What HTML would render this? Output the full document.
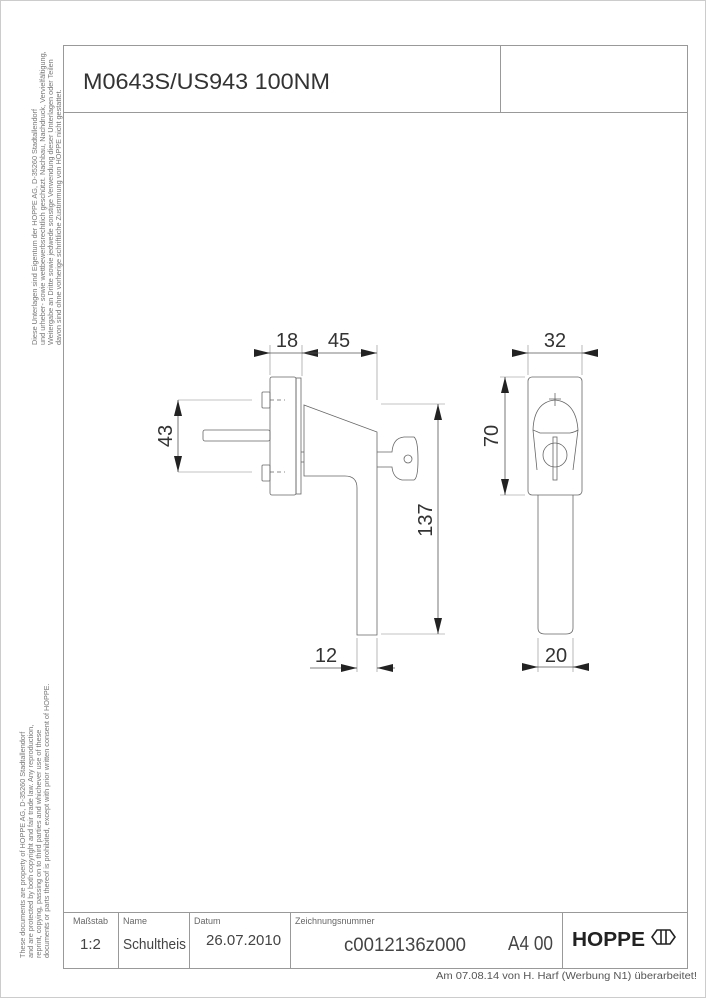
<!DOCTYPE html>
<html><head><meta charset="utf-8"><style>
body{margin:0;background:#fff;}
svg{display:block;font-family:"Liberation Sans",sans-serif;}
</style></head><body>
<svg width="707" height="1000" viewBox="0 0 707 1000" xmlns="http://www.w3.org/2000/svg">
<defs>
<marker id="a" viewBox="0 0 16 8" refX="16" refY="4" markerWidth="16" markerHeight="8" markerUnits="userSpaceOnUse" orient="auto"><path d="M0,0 L16,4 L0,8z" fill="#222"/></marker>
</defs>
<rect x="0.5" y="0.5" width="705" height="997" fill="none" stroke="#ccc"/>
<g fill="none" stroke="#999" stroke-width="1">
<rect x="63.5" y="45.5" width="624" height="923"/>
<line x1="63" y1="112.5" x2="688" y2="112.5"/>
<line x1="500.5" y1="45" x2="500.5" y2="112"/>
<line x1="63" y1="912.5" x2="688" y2="912.5"/>
<line x1="118.5" y1="912" x2="118.5" y2="968"/>
<line x1="189.5" y1="912" x2="189.5" y2="968"/>
<line x1="290.5" y1="912" x2="290.5" y2="968"/>
<line x1="562.5" y1="912" x2="562.5" y2="968"/>
</g>
<text x="83" y="89" font-size="22" fill="#333" textLength="247" lengthAdjust="spacingAndGlyphs">M0643S/US943 100NM</text>
<g fill="#666" font-size="9">
<text x="73" y="924">Maßstab</text><text x="123" y="924">Name</text><text x="194" y="924">Datum</text><text x="295" y="924">Zeichnungsnummer</text>
</g>
<g fill="#444" font-size="15">
<text x="80" y="949">1:2</text><text x="123" y="949" textLength="63" lengthAdjust="spacingAndGlyphs">Schultheis</text><text x="206" y="945">26.07.2010</text>
</g>
<text x="344" y="951" font-size="19" fill="#444" textLength="122" lengthAdjust="spacingAndGlyphs">c0012136z000</text>
<text x="508" y="950" font-size="20" fill="#444" textLength="45" lengthAdjust="spacingAndGlyphs">A4 00</text>
<text x="572" y="946" font-size="20" font-weight="bold" fill="#222" textLength="73" lengthAdjust="spacingAndGlyphs">HOPPE</text>
<path d="M657,930 L670,930 L675,937 L670,944 L657,944 L652,937z M661,930 V944 M666,930 V944" fill="none" stroke="#222" stroke-width="1.6"/>
<text x="697" y="979" font-size="10" fill="#555" text-anchor="end" textLength="261" lengthAdjust="spacingAndGlyphs">Am 07.08.14 von H. Harf (Werbung N1) überarbeitet!</text>
<g fill="#777" font-size="7.3">
<g transform="translate(37,345) rotate(-90)"><text x="0" y="0">Diese Unterlagen sind Eigentum der HOPPE AG, D-35260 Stadtallendorf</text><text x="0" y="8">und urheber- sowie wettbewerbsrechtlich geschützt. Nachbau, Nachdruck, Vervielfältigung,</text><text x="0" y="16">Weitergabe an Dritte sowie jedwede sonstige Verwendung dieser Unterlagen oder Teilen</text><text x="0" y="24">davon sind ohne vorherige schriftliche Zustimmung von HOPPE nicht gestattet.</text></g>
<g transform="translate(25,958) rotate(-90)"><text x="0" y="0">These documents are property of HOPPE AG, D-35260 Stadtallendorf</text><text x="0" y="8">and are protected by both copyright and fair trade law. Any reproduction,</text><text x="0" y="16">reprint, copying, passing on to third parties and whichever use of these</text><text x="0" y="24">documents or parts thereof is prohibited, except with prior written consent of HOPPE.</text></g>
</g>
<g fill="none" stroke="#666" stroke-width="0.8">
<rect x="270" y="377" width="26" height="118" rx="2"/>
<rect x="296" y="378" width="5" height="116"/>
<rect x="262" y="392" width="8" height="16" rx="1"/>
<rect x="262" y="465" width="8" height="16" rx="1"/>
<rect x="203" y="430" width="67" height="11" rx="2"/>
<line x1="270" y1="400" x2="285" y2="400" stroke-dasharray="4,3"/>
<line x1="270" y1="472" x2="285" y2="472" stroke-dasharray="4,3"/>
<path d="M304,405 L377,432 L377,635 L357,635 L357,488 Q357,476 345,476 L304,476 Z"/>
<line x1="301" y1="452" x2="304" y2="452"/><line x1="301" y1="462" x2="304" y2="462"/>
<path d="M377,452 L392,452 Q393,438 404,437 L414,437 Q418,440 418,460 Q418,478 414,480 L402,480 Q393,478 392,467 L377,467"/>
<circle cx="408" cy="459" r="4"/>
<rect x="528" y="377" width="54" height="118" rx="4"/>
<path d="M538,495 L538,628 Q538,634 545,634 L566,634 Q573,634 573,628 L573,495"/>
<path d="M537,470 L533,430 Q534,402 555,400 Q576,402 578,430 L573,470"/>
<path d="M533,430 Q538,432 540,433 L570,433 Q575,432 578,430"/>
<line x1="555" y1="393" x2="555" y2="406"/><line x1="549" y1="399" x2="561" y2="399"/>
<circle cx="555" cy="455" r="12"/>
<rect x="553" y="437" width="4" height="43"/>
</g>
<g fill="none" stroke="#888" stroke-width="0.6">
<line x1="270" y1="345" x2="270" y2="375"/><line x1="302" y1="345" x2="302" y2="376"/>
<line x1="377" y1="345" x2="377" y2="400"/>
<line x1="178" y1="400" x2="252" y2="400"/><line x1="178" y1="472" x2="252" y2="472"/>
<line x1="381" y1="404" x2="445" y2="404"/><line x1="381" y1="634" x2="445" y2="634"/>
<line x1="357" y1="638" x2="357" y2="672"/><line x1="377" y1="638" x2="377" y2="672"/>
<line x1="528" y1="345" x2="528" y2="375"/><line x1="582" y1="345" x2="582" y2="375"/>
<line x1="500" y1="377" x2="525" y2="377"/><line x1="500" y1="495" x2="525" y2="495"/>
<line x1="538" y1="638" x2="538" y2="672"/><line x1="573" y1="638" x2="573" y2="672"/>
</g>
<g stroke="#555" stroke-width="0.8" fill="none">
<line x1="254" y1="353" x2="270" y2="353" marker-end="url(#a)"/>
<line x1="270" y1="353" x2="302" y2="353"/>
<line x1="318" y1="353" x2="302" y2="353" marker-end="url(#a)"/>
<line x1="302" y1="353" x2="377" y2="353" marker-end="url(#a)"/>
<line x1="178" y1="436" x2="178" y2="400" marker-end="url(#a)"/>
<line x1="178" y1="436" x2="178" y2="472" marker-end="url(#a)"/>
<line x1="438" y1="520" x2="438" y2="404" marker-end="url(#a)"/>
<line x1="438" y1="520" x2="438" y2="634" marker-end="url(#a)"/>
<line x1="310" y1="668" x2="357" y2="668" marker-end="url(#a)"/>
<line x1="395" y1="668" x2="377" y2="668" marker-end="url(#a)"/>
<line x1="512" y1="353" x2="528" y2="353" marker-end="url(#a)"/>
<line x1="528" y1="353" x2="582" y2="353"/>
<line x1="598" y1="353" x2="582" y2="353" marker-end="url(#a)"/>
<line x1="505" y1="436" x2="505" y2="377" marker-end="url(#a)"/>
<line x1="505" y1="436" x2="505" y2="495" marker-end="url(#a)"/>
<line x1="522" y1="667" x2="538" y2="667" marker-end="url(#a)"/>
<line x1="538" y1="667" x2="573" y2="667"/>
<line x1="589" y1="667" x2="573" y2="667" marker-end="url(#a)"/>
</g>
<g fill="#333" font-size="20" text-anchor="middle">
<text x="287" y="347">18</text><text x="339" y="347">45</text>
<text x="555" y="347">32</text><text x="556" y="662">20</text><text x="326" y="662">12</text>
<text transform="translate(172,436) rotate(-90)">43</text>
<text transform="translate(432,520) rotate(-90)">137</text>
<text transform="translate(498,436) rotate(-90)">70</text>
</g>
</svg>
</body></html>
